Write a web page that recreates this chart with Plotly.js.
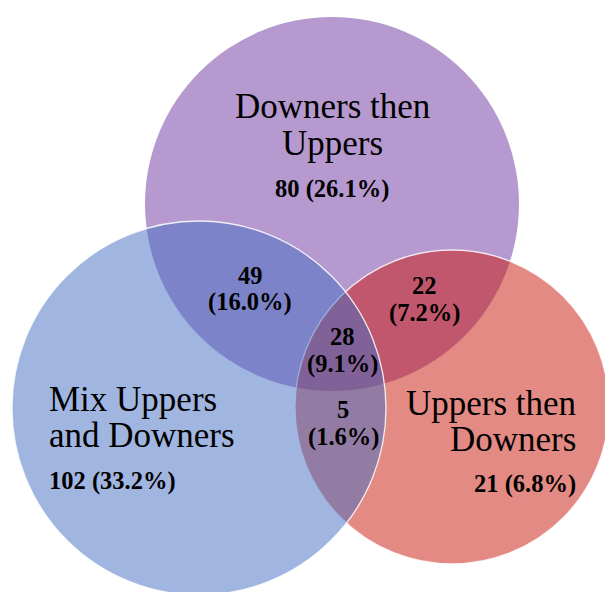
<!DOCTYPE html>
<html>
<head>
<meta charset="utf-8">
<script src="https://cdn.plot.ly/plotly-3.0.1.min.js"></script>
<style>html,body{margin:0;padding:0;background:#fff;}#chart{width:605px;height:592px;}</style>
</head>
<body>
<div id="chart"></div>
<script>
// ---- data ----
const setNames = [["Downers then", "Uppers"], ["Mix Uppers", "and Downers"], ["Uppers then", "Downers"]];
const setCounts = [80, 102, 21];
const setPercents = [26.1, 33.2, 6.8];
const overlapNames = ["Downers then Uppers & Mix", "Downers then Uppers & Uppers then Downers", "Mix & Uppers then Downers", "All three"];
const overlapCounts = [49, 22, 5, 28];
const overlapPercents = [16.0, 7.2, 1.6, 9.1];

// ---- geometry / styling (pixel-space layout) ----
const circles = [
  {cx: 332, cy: 204, r: 187, fill: "rgba(109,51,159,0.5)", line: "rgba(255,255,255,0)"},
  {cx: 452, cy: 407, r: 157, fill: "rgba(201,21,9,0.5)", line: "rgba(255,255,255,0.85)"},
  {cx: 199, cy: 408, r: 187, fill: "rgba(65,109,195,0.5)", line: "rgba(255,255,255,0.85)"}
];
const setPos = [
  {x: 332, y: [106.5, 143], yc: 189, anchor: "center"},
  {x: 47, y: [399, 435.5], yc: 481, anchor: "left"},
  {x: 578, y: [403, 439.5], yc: 484, anchor: "right"}
];
const overlapPos = [
  {x: 250, y: [275, 302]},
  {x: 424, y: [285, 313]},
  {x: 343, y: [409, 437]},
  {x: 342, y: [336, 364]}
];

const shapes = circles.map(c => ({
  type: "circle", xref: "x", yref: "y",
  x0: c.cx - c.r, x1: c.cx + c.r, y0: c.cy - c.r, y1: c.cy + c.r,
  fillcolor: c.fill, line: {color: c.line, width: 1.3}
}));

const annotations = [];
const serif = "Liberation Serif";
const nameFont = {family: serif, size: 35, color: "#000"};
const numFont = {family: serif, size: 24.5, color: "#000", weight: "bold"};
setNames.forEach((lines, i) => {
  const p = setPos[i];
  lines.forEach((t, j) => annotations.push({
    x: p.x, y: p.y[j], xref: "x", yref: "y", text: t, showarrow: false,
    xanchor: p.anchor, yanchor: "middle", font: nameFont
  }));
  annotations.push({
    x: p.x, y: p.yc, xref: "x", yref: "y",
    text: setCounts[i] + " (" + setPercents[i].toFixed(1) + "%)",
    showarrow: false, xanchor: p.anchor, yanchor: "middle", font: numFont
  });
});
overlapCounts.forEach((v, i) => {
  const p = overlapPos[i];
  annotations.push({x: p.x, y: p.y[0], xref: "x", yref: "y", text: String(v),
    showarrow: false, xanchor: "center", yanchor: "middle", font: numFont});
  annotations.push({x: p.x, y: p.y[1], xref: "x", yref: "y",
    text: "(" + overlapPercents[i].toFixed(1) + "%)",
    showarrow: false, xanchor: "center", yanchor: "middle", font: numFont});
});

const layout = {
  width: 605, height: 592,
  margin: {l: 0, r: 0, t: 0, b: 0},
  paper_bgcolor: "#fff", plot_bgcolor: "#fff",
  showlegend: false,
  xaxis: {range: [0, 605], visible: false, fixedrange: true},
  yaxis: {range: [592, 0], visible: false, fixedrange: true},
  shapes: shapes,
  annotations: annotations
};
Plotly.newPlot("chart", [], layout, {displayModeBar: false, staticPlot: true});
</script>
</body>
</html>
